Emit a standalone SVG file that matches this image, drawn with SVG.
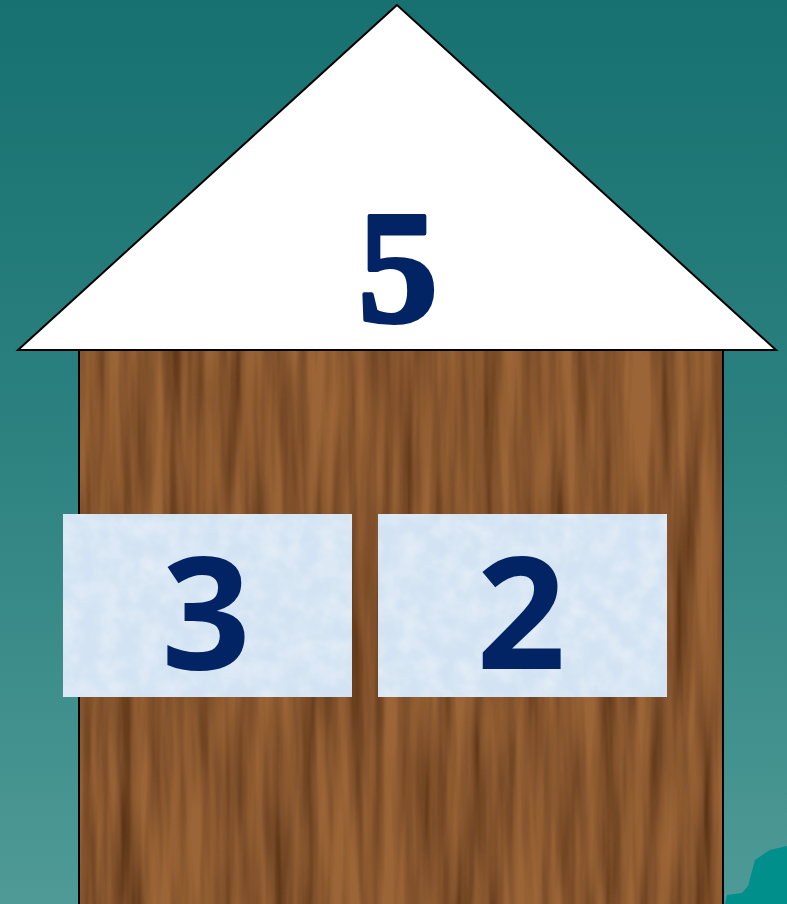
<svg xmlns="http://www.w3.org/2000/svg" width="787" height="904" viewBox="0 0 787 904">
<defs>
<linearGradient id="bg" x1="0" y1="0" x2="0" y2="1">
<stop offset="0" stop-color="#167170"/>
<stop offset="0.5" stop-color="#2d8280"/>
<stop offset="1" stop-color="#4f9a96"/>
</linearGradient>
<filter id="wood" x="0" y="0" width="1" height="1" filterUnits="objectBoundingBox">
<feTurbulence type="fractalNoise" baseFrequency="0.06 0.004" numOctaves="3" seed="7" result="n"/>
<feColorMatrix in="n" type="matrix" values="0 0 0 0 0  0 0 0 0 0  0 0 0 0 0  1.6 0 0 0 -0.45" result="a"/>
<feFlood flood-color="#4e2a14" result="dark"/>
<feComposite in="dark" in2="a" operator="in" result="d"/>
<feFlood flood-color="#9b6538" result="base"/>
<feMerge><feMergeNode in="base"/><feMergeNode in="d"/></feMerge>
<feComposite in2="SourceGraphic" operator="in"/>
</filter>
<filter id="paper" x="0" y="0" width="1" height="1">
<feTurbulence type="fractalNoise" baseFrequency="0.05" numOctaves="3" seed="3" result="n"/>
<feColorMatrix in="n" type="matrix" values="0 0 0 0 1  0 0 0 0 1  0 0 0 0 1  0.6 0 0 0 -0.2" result="a"/>
<feFlood flood-color="#d3e3f3" result="base"/>
<feMerge><feMergeNode in="base"/><feMergeNode in="a"/></feMerge>
<feComposite in2="SourceGraphic" operator="in"/>
</filter>
<style>
.num{fill:#022364;font-weight:bold;text-anchor:middle}
.sans{font-family:"Open Sans","Noto Sans","DejaVu Sans",sans-serif;font-size:156px}
.box{fill:#d6e6f5;stroke:#eef2f4;stroke-width:2}
</style>
</defs>
<rect width="787" height="904" fill="url(#bg)"/>
<path d="M725,904 L727,895 L742,893 L748,886 L755,860 L770,850 L787,846 L787,904 Z" fill="#008f8a"/>
<g id="house">
<rect x="79" y="350" width="644" height="560" fill="#8a5a2e" filter="url(#wood)"/>
<rect x="79" y="350" width="644" height="560" fill="none" stroke="#000" stroke-width="2"/>
</g>
<g id="roof">
<polygon points="397,5 18,350 776,350" fill="#fff" stroke="#000" stroke-width="2"/>
<text class="num" x="398" y="321" font-family="'Liberation Serif','DejaVu Serif',serif" font-size="160" stroke="#022364" stroke-width="4" stroke-linejoin="round">5</text>
</g>
<g id="box3">
<rect class="box" x="63" y="514" width="289" height="183" filter="url(#paper)"/>
<text class="num sans" x="206" y="669">3</text>
</g>
<g id="box2">
<rect class="box" x="378" y="514" width="289" height="183" filter="url(#paper)"/>
<text class="num sans" x="521" y="669">2</text>
</g>
</svg>
